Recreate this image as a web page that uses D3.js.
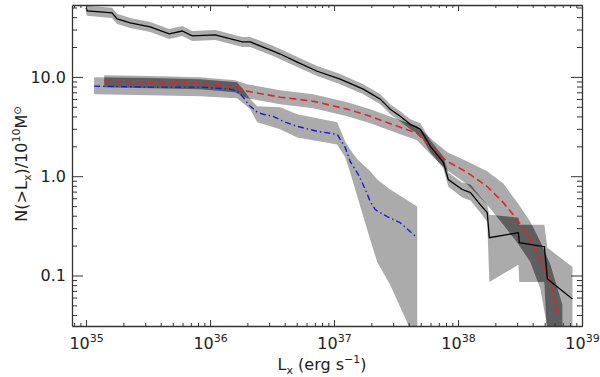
<!DOCTYPE html>
<html><head><meta charset="utf-8">
<script src="https://cdn.jsdelivr.net/npm/d3@7"></script>
<style>html,body{margin:0;padding:0;background:#fff;} svg{display:block;}</style>
</head><body><svg id="c" width="600" height="377"></svg>
<script>
// ---------- data ----------
const LX_BLACK = [1.00e35,1.02e35,1.30e35,1.62e35,1.78e35,2.27e35,3.29e35,4.68e35,5.96e35,7.18e35,1.10e36,1.82e36,2.11e36,3.23e36,3.68e36,5.05e36,7.32e36,1.12e37,1.72e37,2.36e37,2.84e37,3.42e37,4.12e37,4.97e37,5.98e37,7.61e37,8.35e37,1.08e38,1.26e38,1.51e38,1.72e38,1.79e38,3.07e38,3.12e38,4.97e38,5.26e38,8.38e38];
const N_BLACK = [49.6,46.3,45.2,44.2,38.4,35.0,31.9,27.1,29.0,25.9,26.5,22.5,22.5,18.2,17.0,14.1,11.4,9.50,7.53,5.97,4.73,4.01,3.33,2.97,2.00,1.38,0.926,0.734,0.684,0.517,0.430,0.240,0.270,0.214,0.195,0.0924,0.058];
const N_BLACK_HI = [55.7,52.0,50.8,49.6,43.2,39.3,35.8,30.4,32.6,29.0,29.7,25.3,25.3,20.5,19.1,15.9,12.9,10.7,8.46,6.70,5.31,4.51,3.74,3.41,2.30,1.58,1.09,0.864,0.824,0.623,0.517,0.410,0.382,0.325,0.325,0.190,0.122];
const N_BLACK_LO = [44.2,41.2,40.2,39.3,34.2,31.1,28.4,24.1,25.9,23.0,23.6,20.0,20.0,16.2,15.1,12.6,10.2,8.46,6.70,5.31,4.21,3.57,2.97,2.58,1.74,1.20,0.787,0.609,0.568,0.430,0.348,0.0861,0.128,0.0861,0.0861,0.02,0.02];

const LX_RED = [1.40e35,3.29e35,8.32e35,1.59e36,1.99e36,3.68e36,6.79e36,1.28e37,1.96e37,3.42e37,4.69e37,5.98e37,8.20e37,1.19e38,1.72e38,2.32e38,3.01e38,3.83e38,4.62e38,5.56e38,6.33e38];
const N_RED = [9.07,8.86,8.66,8.07,7.19,6.25,5.69,4.73,4.01,3.11,2.70,2.00,1.41,1.09,0.787,0.542,0.365,0.229,0.144,0.0842,0.0418];
const LX_RED_BAND = [1.40e35,3.29e35,8.32e35,1.59e36,1.99e36,3.68e36,6.79e36,1.28e37,1.96e37,3.42e37,4.69e37,5.98e37,8.20e37,1.19e38,1.72e38,2.32e38,3.01e38,3.83e38,4.62e38,5.56e38,6.33e38,6.95e38];
const N_RED_HI = [10.4,10.2,9.95,9.28,8.46,7.36,6.70,5.56,4.73,3.66,3.18,2.41,1.74,1.41,1.12,0.844,0.542,0.348,0.219,0.128,0.0749,0.0504];
const N_RED_LO = [7.89,7.70,7.53,7.02,6.11,5.31,4.84,4.01,3.41,2.64,2.30,1.66,1.14,0.824,0.517,0.325,0.214,0.137,0.0732,0.02,0.02,0.02];

const LX_BLUE = [1.16e35,3.29e35,8.32e35,1.45e36,1.65e36,1.85e36,2.03e36,2.40e36,2.68e36,3.23e36,3.89e36,5.05e36,7.32e36,1.06e37,1.23e37,1.35e37,1.57e37,1.79e37,1.96e37,2.15e37,2.69e37,3.42e37,4.69e37];
const N_BLUE = [8.07,7.89,7.89,7.53,7.19,6.25,5.31,4.41,4.21,4.01,3.57,3.18,2.83,2.64,1.95,1.41,1.04,0.734,0.555,0.461,0.391,0.340,0.240];
const LX_BLUE_BAND = [1.16e35,3.29e35,8.32e35,1.65e36,1.85e36,2.11e36,2.40e36,3.68e36,5.05e36,1.06e37,1.23e37,1.35e37,1.54e37,1.96e37,2.23e37,2.84e37,4.69e37];
const N_BLUE_HI = [9.95,9.74,9.50,8.86,7.53,5.97,5.07,4.95,4.21,3.49,2.24,1.86,1.48,1.12,0.926,0.734,0.494];
const N_BLUE_LO = [6.70,6.55,6.40,6.11,5.43,4.73,3.49,2.97,2.46,2.09,1.55,1.09,0.623,0.229,0.137,0.0804,0.02];

const X_MAJOR = [1e35,1e36,1e37,1e38,1e39];
const X_MAJOR_EXP = ["35","36","37","38","39"];
const X_MINOR = [8e34,9e34,2e35,3e35,4e35,5e35,6e35,7e35,8e35,9e35,2e36,3e36,4e36,5e36,6e36,7e36,8e36,9e36,2e37,3e37,4e37,5e37,6e37,7e37,8e37,9e37,2e38,3e38,4e38,5e38,6e38,7e38,8e38,9e38];
const Y_MAJOR = [0.1,1,10];
const Y_MAJOR_LABELS = ["0.1","1.0","10.0"];
const Y_MINOR = [0.04,0.05,0.06,0.07,0.08,0.09,0.2,0.3,0.4,0.5,0.6,0.7,0.8,0.9,2,3,4,5,6,7,8,9,20,30,40,50];

// ---------- layout ----------
const L = 72, R = 582, T = 5, B = 326;
const FONT = "DejaVu Sans";
const svg = d3.select("#c");
svg.append("rect").attr("width",600).attr("height",377).attr("fill","#fff");

const x = d3.scaleLog().domain([7.7e34, 1e39]).range([L, R]);
const y = d3.scaleLog().domain([0.031, 53]).range([B, T]);

const defs = svg.append("defs");
defs.append("clipPath").attr("id","plot").append("rect")
  .attr("x",L).attr("y",T).attr("width",R-L).attr("height",B-T);

const area = d3.area().x(d=>x(d.lx)).y0(d=>y(d.lo)).y1(d=>y(d.hi));
const line = d3.line().x(d=>x(d.lx)).y(d=>y(d.n));
const band = (lx,hi,lo)=>lx.map((v,i)=>({lx:v,hi:hi[i],lo:lo[i]}));
const pts = (lx,n)=>lx.map((v,i)=>({lx:v,n:n[i]}));

const blackBand = band(LX_BLACK,N_BLACK_HI,N_BLACK_LO);
const redBand = band(LX_RED_BAND,N_RED_HI,N_RED_LO);
const blueBand = band(LX_BLUE_BAND,N_BLUE_HI,N_BLUE_LO);

defs.append("clipPath").attr("id","cBlue").append("path").attr("d",area(blueBand));
defs.append("clipPath").attr("id","cBlack").append("path").attr("d",area(blackBand));

const LIGHT = "#ababab", DARK = "#5e5e5e";
const g = svg.append("g").attr("clip-path","url(#plot)");
g.append("path").attr("d",area(blackBand)).attr("fill",LIGHT);
g.append("path").attr("d",area(redBand)).attr("fill",LIGHT);
g.append("path").attr("d",area(blueBand)).attr("fill",LIGHT);
g.append("g").attr("clip-path","url(#cBlue)").append("path").attr("d",area(redBand)).attr("fill",DARK);
g.append("g").attr("clip-path","url(#cBlack)").append("path").attr("d",area(redBand)).attr("fill",DARK);

g.append("path").attr("d",line(pts(LX_RED,N_RED))).attr("fill","none")
  .attr("stroke","#e8202a").attr("stroke-width",1.6).attr("stroke-dasharray","7,4");
g.append("path").attr("d",line(pts(LX_BLUE,N_BLUE))).attr("fill","none")
  .attr("stroke","#1a1ad8").attr("stroke-width",1.4).attr("stroke-dasharray","6,3,1.5,3");
g.append("path").attr("d",line(pts(LX_BLACK,N_BLACK))).attr("fill","none")
  .attr("stroke","#000").attr("stroke-width",1.3);

// ---------- axes ----------
function styleAxis(sel, keepDomain){
  sel.selectAll(".tick line").attr("stroke","#333").attr("stroke-width",1);
  if(keepDomain) sel.select(".domain").attr("stroke","#333").attr("stroke-width",1.3);
  else sel.select(".domain").remove();
  sel.attr("font-family",FONT).attr("font-size",16);
  sel.selectAll("text").attr("fill","#222");
}
// bottom
const axB = svg.append("g").attr("transform",`translate(0,${B})`)
  .call(d3.axisBottom(x).tickValues(X_MAJOR).tickSizeInner(-6).tickSizeOuter(0).tickPadding(12).tickFormat(()=> "10"));
styleAxis(axB,true);
axB.selectAll(".tick text").each(function(d,i){
  d3.select(this).append("tspan").attr("dy",-7).attr("font-size",11).text(X_MAJOR_EXP[i]);
});
const axBm = svg.append("g").attr("transform",`translate(0,${B})`)
  .call(d3.axisBottom(x).tickValues(X_MINOR).tickSizeInner(-3).tickSizeOuter(0).tickFormat(""));
styleAxis(axBm,false);
// top
const axT = svg.append("g").attr("transform",`translate(0,${T})`)
  .call(d3.axisTop(x).tickValues(X_MAJOR).tickSizeInner(-6).tickSizeOuter(0).tickFormat(""));
styleAxis(axT,true);
const axTm = svg.append("g").attr("transform",`translate(0,${T})`)
  .call(d3.axisTop(x).tickValues(X_MINOR).tickSizeInner(-3).tickSizeOuter(0).tickFormat(""));
styleAxis(axTm,false);
// left
const axL = svg.append("g").attr("transform",`translate(${L},0)`)
  .call(d3.axisLeft(y).tickValues(Y_MAJOR).tickSizeInner(-11).tickSizeOuter(0).tickPadding(6)
    .tickFormat((d,i)=>Y_MAJOR_LABELS[i]));
styleAxis(axL,true);
const axLm = svg.append("g").attr("transform",`translate(${L},0)`)
  .call(d3.axisLeft(y).tickValues(Y_MINOR).tickSizeInner(-5).tickSizeOuter(0).tickFormat(""));
styleAxis(axLm,false);
// right
const axR = svg.append("g").attr("transform",`translate(${R},0)`)
  .call(d3.axisRight(y).tickValues(Y_MAJOR).tickSizeInner(-11).tickSizeOuter(0).tickFormat(""));
styleAxis(axR,true);
const axRm = svg.append("g").attr("transform",`translate(${R},0)`)
  .call(d3.axisRight(y).tickValues(Y_MINOR).tickSizeInner(-5).tickSizeOuter(0).tickFormat(""));
styleAxis(axRm,false);

// ---------- titles ----------
const xt = svg.append("text").attr("x",322).attr("y",370).attr("text-anchor","middle")
  .attr("font-family",FONT).attr("font-size",16).attr("fill","#222");
xt.append("tspan").text("L");
xt.append("tspan").attr("dy",4).attr("font-size",11).text("x");
xt.append("tspan").attr("dy",-4).text(" (erg s");
xt.append("tspan").attr("dy",-7).attr("font-size",11).text("−1");
xt.append("tspan").attr("dy",7).text(")");

const yt = svg.append("text").attr("transform","translate(27,164) rotate(-90)").attr("text-anchor","middle")
  .attr("font-family",FONT).attr("font-size",16).attr("fill","#222");
yt.append("tspan").text("N(>L");
yt.append("tspan").attr("dy",4).attr("font-size",11).text("x");
yt.append("tspan").attr("dy",-4).text(")/10");
yt.append("tspan").attr("dy",-7).attr("font-size",11).text("10");
yt.append("tspan").attr("dy",7).text("M");
yt.append("tspan").attr("dy",-6).attr("font-size",10).text("⊙");
</script></body></html>
